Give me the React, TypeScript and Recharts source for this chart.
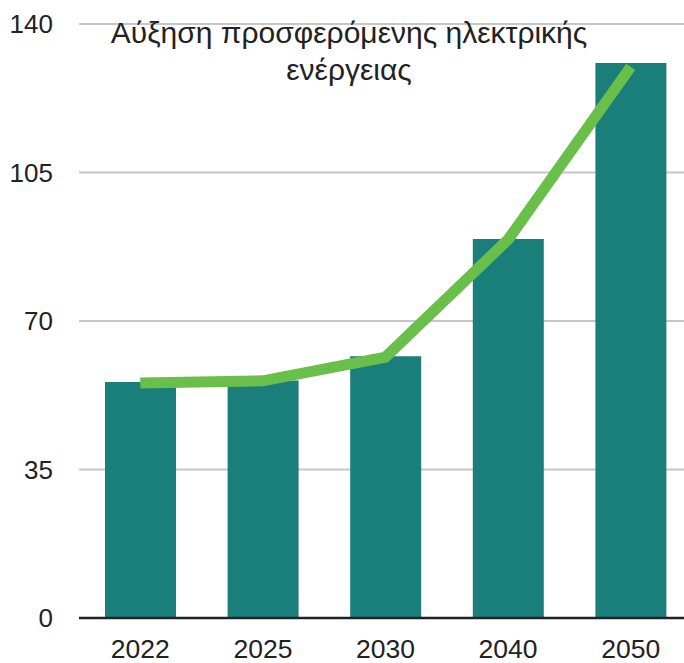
import { ComposedChart, Bar, Line, XAxis, YAxis, CartesianGrid } from "recharts"

const years = ["2022", "2025", "2030", "2040", "2050"]
const supply = [55.6, 56, 61.7, 89.3, 130.8]
const trend = [55.4, 55.9, 61.5, 89.2, 129.9]
const yTicks = [0, 35, 70, 105, 140]

const data = years.map((year, i) => ({ year, supply: supply[i], trend: trend[i] }))

const FONT = "'Liberation Sans', Arial, sans-serif"

export default function App() {
  return (
    <div style={{ position: "absolute", left: 0, top: 0, width: 684, height: 663, overflow: "hidden", background: "#fff" }}>
      <ComposedChart
        width={692}
        height={663}
        data={data}
        margin={{ top: 24, right: 0, bottom: 0, left: 0 }}
        barCategoryGap={0}
      >
        <CartesianGrid vertical={false} stroke="#c6c6c6" strokeWidth={2} />
        <XAxis
          dataKey="year"
          height={45}
          axisLine={{ stroke: "#222", strokeWidth: 2.5 }}
          tickLine={false}
          tickMargin={15}
          tick={{ fill: "#222", fontSize: 26.5, fontFamily: FONT }}
        />
        <YAxis
          width={79}
          domain={[0, 140]}
          ticks={yTicks}
          axisLine={false}
          tickLine={false}
          tickMargin={20}
          tick={{ fill: "#222", fontSize: 26, fontFamily: FONT }}
        />
        <Bar dataKey="supply" fill="#1a7f7a" barSize={71} isAnimationActive={false} />
        <Line
          dataKey="trend"
          stroke="#6abf4b"
          strokeWidth={11}
          dot={false}
          activeDot={false}
          strokeLinecap="butt"
          strokeLinejoin="miter"
          type="linear"
          isAnimationActive={false}
        />
      </ComposedChart>
      <div
        style={{
          position: "absolute",
          left: 69,
          top: 14,
          width: 560,
          textAlign: "center",
          fontFamily: FONT,
          fontSize: 30,
          lineHeight: "37px",
          color: "#222",
          whiteSpace: "nowrap",
        }}
      >
        Αύξηση προσφερόμενης ηλεκτρικής
        <br />
        ενέργειας
      </div>
    </div>
  )
}
